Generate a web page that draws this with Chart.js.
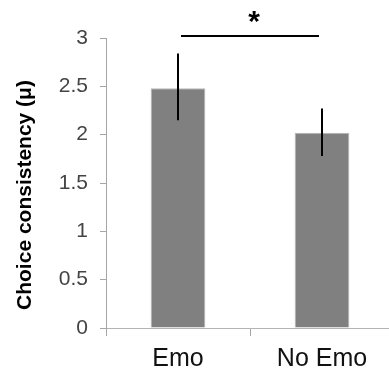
<!DOCTYPE html>
<html lang="en">
<head>
    <meta charset="UTF-8">
    <title>Choice consistency</title>
    <style>
        html, body {
            margin: 0;
            padding: 0;
            overflow: hidden;
            background: #fff;
        }
        #chartContainer {
            width: 394px;
            height: 374px;
        }
    </style>
</head>
<body>
    <div id="chartContainer">
        <canvas id="myChart"></canvas>
    </div>
    <script src="https://cdn.jsdelivr.net/npm/chart.js"></script>
    <script>
        // Data
        var conditions = ['Emo', 'No Emo'];
        var meanConsistency = [2.48, 2.02];
        var errLow = [2.15, 1.78];
        var errHigh = [2.84, 2.27];
        var yTicks = [0, 0.5, 1, 1.5, 2, 2.5, 3];
        var sigLevel = 3.02;
        var sigLabel = '*';
        var yTitle = 'Choice consistency (\u03bc)';

        // Error bars, significance bracket and rotated axis title
        var extras = {
            id: 'extras',
            afterDatasetsDraw: function (chart) {
                var ctx = chart.ctx;
                var x = chart.scales.x;
                var y = chart.scales.y;
                ctx.save();
                ctx.strokeStyle = '#000';
                ctx.lineWidth = 2;
                for (var i = 0; i < conditions.length; i++) {
                    var px = x.getPixelForValue(i);
                    ctx.beginPath();
                    ctx.moveTo(px, y.getPixelForValue(errLow[i]));
                    ctx.lineTo(px, y.getPixelForValue(errHigh[i]));
                    ctx.stroke();
                }

                // bracket between the two bars
                var x0 = x.getPixelForValue(0) + 3;
                var x1 = x.getPixelForValue(1) - 3;
                var sy = y.getPixelForValue(sigLevel);
                ctx.beginPath();
                ctx.moveTo(x0, sy);
                ctx.lineTo(x1, sy);
                ctx.stroke();

                ctx.fillStyle = '#000';
                ctx.font = 'bold 30px "Liberation Sans", Arial, sans-serif';
                ctx.textAlign = 'center';
                ctx.textBaseline = 'middle';
                ctx.fillText(sigLabel, (x0 + x1) / 2 + 4, sy - 13);

                // y axis title
                var area = chart.chartArea;
                ctx.translate(25, (area.top + area.bottom) / 2 + 12);
                ctx.rotate(-Math.PI / 2);
                ctx.font = 'bold 21px "Liberation Sans", Arial, sans-serif';
                ctx.fillText(yTitle, 0, 0);
                ctx.restore();
            }
        };

        var ctx = document.getElementById('myChart').getContext('2d');
        var myChart = new Chart(ctx, {
            type: 'bar',
            data: {
                labels: conditions,
                datasets: [{
                    data: meanConsistency,
                    backgroundColor: '#808080',
                    borderColor: '#b8b8b8',
                    borderWidth: 1,
                    barPercentage: 0.38,
                    categoryPercentage: 1
                }]
            },
            options: {
                responsive: true,
                maintainAspectRatio: false,
                animation: false,
                layout: {
                    padding: { top: 38, left: 0, right: 0, bottom: 0 }
                },
                plugins: {
                    legend: { display: false },
                    tooltip: { enabled: false }
                },
                scales: {
                    x: {
                        offset: true,
                        afterFit: function (scale) { scale.height = 46; },
                        grid: {
                            offset: true,
                            drawOnChartArea: false,
                            drawTicks: true,
                            tickLength: 8,
                            color: '#a6a6a6'
                        },
                        border: { color: '#b4b4b4', width: 1 },
                        ticks: {
                            padding: 8,
                            color: '#111',
                            font: { family: '"Liberation Sans", Arial, sans-serif', size: 25 }
                        }
                    },
                    y: {
                        min: 0,
                        max: 3,
                        afterFit: function (scale) { scale.width = 106; },
                        afterBuildTicks: function (scale) {
                            scale.ticks = yTicks.map(function (v) { return { value: v }; });
                        },
                        grid: {
                            drawOnChartArea: false,
                            drawTicks: true,
                            tickLength: 6,
                            color: '#a6a6a6'
                        },
                        border: { color: '#a6a6a6', width: 1 },
                        ticks: {
                            padding: 12,
                            color: '#444',
                            font: { family: '"Liberation Sans", Arial, sans-serif', size: 21 },
                            callback: function (value) { return String(value); }
                        }
                    }
                }
            },
            plugins: [extras]
        });
    </script>
</body>
</html>
